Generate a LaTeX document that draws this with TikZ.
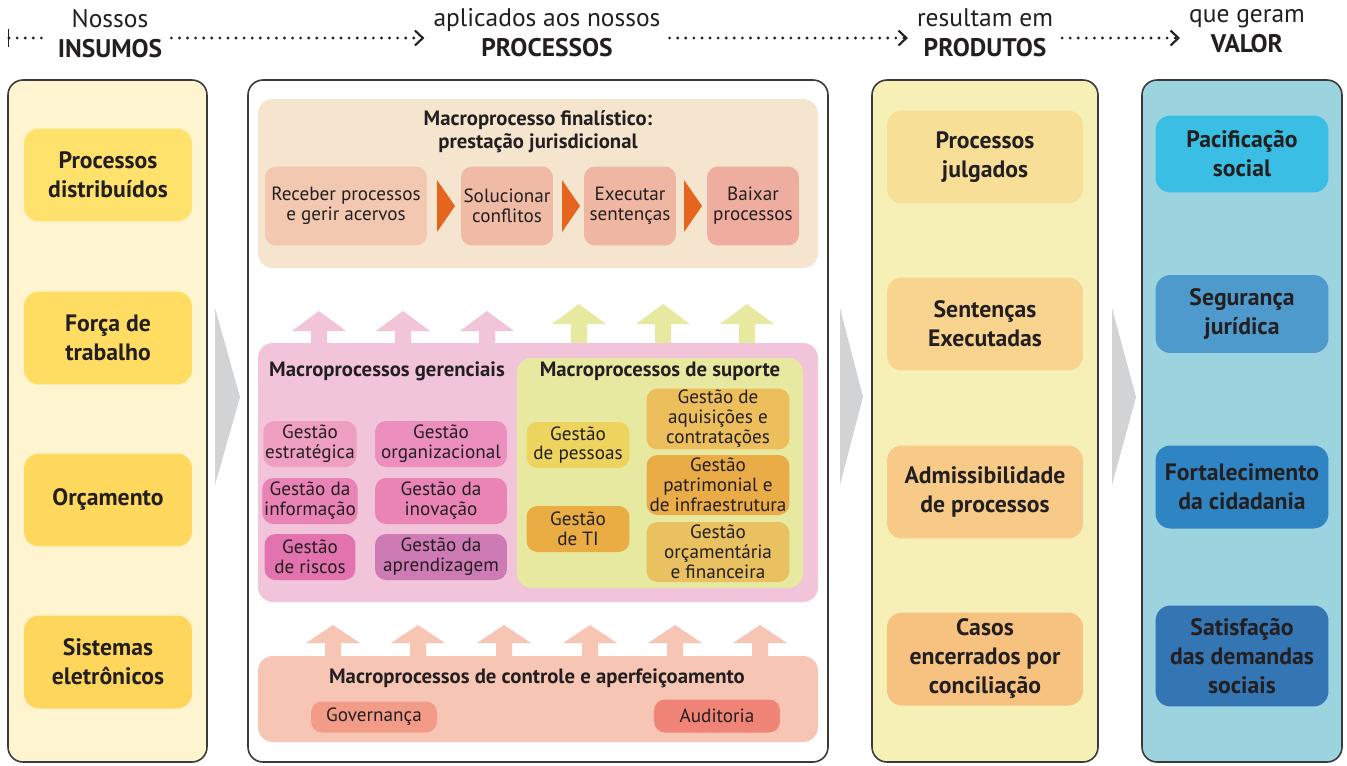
\documentclass[tikz,border=0pt]{standalone}
\usepackage{fontspec}
\setmainfont{PT Sans}
\usepackage{tikz}
\usetikzlibrary{arrows.meta, positioning}

\definecolor{ink}{HTML}{231F20}
\definecolor{moldura}{HTML}{3A3A3A}
\definecolor{cinza}{HTML}{D1D3D4}
\definecolor{insumofundo}{HTML}{FEF4CF}
\definecolor{insA}{HTML}{FFE26C}
\definecolor{insB}{HTML}{FFDC62}
\definecolor{insC}{HTML}{FFD85E}
\definecolor{insD}{HTML}{FFD65C}
\definecolor{prodfundo}{HTML}{F7F0B6}
\definecolor{prodA}{HTML}{F8DF97}
\definecolor{prodB}{HTML}{F8D48E}
\definecolor{prodC}{HTML}{F7CB87}
\definecolor{prodD}{HTML}{F7C27F}
\definecolor{valfundo}{HTML}{9BD3DF}
\definecolor{valA}{HTML}{3ABEE3}
\definecolor{valB}{HTML}{4F9ACC}
\definecolor{valC}{HTML}{2F85C4}
\definecolor{valD}{HTML}{3475B4}
\definecolor{finfundo}{HTML}{F5E5CF}
\definecolor{finA}{HTML}{F2C8B1}
\definecolor{finB}{HTML}{F0BBA5}
\definecolor{finC}{HTML}{EFB7A1}
\definecolor{finD}{HTML}{EEAD9E}
\definecolor{laranja}{HTML}{E5641E}
\definecolor{gerfundo}{HTML}{F2C4D9}
\definecolor{gerA}{HTML}{EE9FC2}
\definecolor{gerB}{HTML}{EC8FBF}
\definecolor{gerC}{HTML}{E983B6}
\definecolor{gerD}{HTML}{EA84B5}
\definecolor{gerE}{HTML}{E273AE}
\definecolor{gerF}{HTML}{CE7AB5}
\definecolor{supfundo}{HTML}{E8E9A0}
\definecolor{supA}{HTML}{ECD45F}
\definecolor{supB}{HTML}{E9AD44}
\definecolor{supC}{HTML}{ECBE5C}
\definecolor{supD}{HTML}{E9AC47}
\definecolor{supE}{HTML}{EAC160}
\definecolor{ctrfundo}{HTML}{F7C5B3}
\definecolor{ctrA}{HTML}{F29C88}
\definecolor{ctrB}{HTML}{F08477}

\tikzset{
    painel/.style={draw=moldura, line width=0.9pt, rounded corners=0.3cm},
    area/.style={rounded corners=0.3cm},
    cabecalho/.style={align=center, text=ink, inner sep=5pt, font=\fontsize{14.5}{17}\selectfont},
    pontilhado/.style={ink, line width=1.8pt, line cap=round, dash pattern=on 0pt off 4.6pt},
    ponta/.style={-{Straight Barb[length=4.5pt, width=8.5pt, line width=1.2pt]}},
    caixagrande/.style={rounded corners=0.3cm, align=center, text=ink, inner sep=1pt,
        font=\fontsize{13.5}{16.5}\selectfont\bfseries},
    caixapequena/.style={rounded corners=0.22cm, align=center, text=ink, inner sep=1pt,
        font=\fontsize{10.9}{11.3}\selectfont},
    titulo/.style={align=center, text=ink, inner sep=1pt, font=\fontsize{11.8}{13}\selectfont\bfseries}
}

\begin{document}
\begin{tikzpicture}[x=0.02cm, y=-0.02cm]
    \useasboundingbox (0,0) rectangle (1347,765);

    % cabecalho
    \node[cabecalho] (insumos) at (110,34) {Nossos\\\textbf{INSUMOS}};
    \node[cabecalho] (processos) at (547,33) {aplicados aos nossos\\\textbf{PROCESSOS}};
    \node[cabecalho] (produtos) at (985,33) {resultam em\\\textbf{PRODUTOS}};
    \node[cabecalho] (valor) at (1247,31) {que geram\\\textbf{VALOR}};
    \coordinate (inicio) at (8,38);

    \draw[pontilhado, {Bar[width=10pt, line width=0.8pt]}-] (inicio) -- (inicio -| insumos.west);
    \draw[pontilhado, ponta] (insumos.east |- inicio) -- (inicio -| processos.west);
    \draw[pontilhado, ponta] (processos.east |- inicio) -- (inicio -| produtos.west);
    \draw[pontilhado, ponta] (produtos.east |- inicio) -- (inicio -| valor.west);

    % paineis
    \filldraw[painel, fill=insumofundo] (8,80) rectangle (207,762);
    \filldraw[painel, fill=white] (248,80) rectangle (828,762);
    \filldraw[painel, fill=prodfundo] (872,80) rectangle (1098,762);
    \filldraw[painel, fill=valfundo] (1142,80) rectangle (1342,762);

    \fill[cinza] (215,308) -- (240,397) -- (215,485) -- cycle;
    \fill[cinza] (840,308) -- (863,397) -- (840,485) -- cycle;
    \fill[cinza] (1112,308) -- (1136,397) -- (1112,485) -- cycle;

    % insumos
    \node[caixagrande, fill=insA, minimum width=3.36cm, minimum height=1.86cm] (distribuidos) at (108,175) {Processos\\distribuídos};
    \node[caixagrande, fill=insB, minimum width=3.36cm, minimum height=1.86cm] (forca) at (108,338) {Força de\\trabalho};
    \node[caixagrande, fill=insC, minimum width=3.36cm, minimum height=1.86cm] (orcamento) at (108,500) {Orçamento};
    \node[caixagrande, fill=insD, minimum width=3.36cm, minimum height=1.86cm] (sistemas) at (108,662) {Sistemas\\eletrônicos};

    % produtos
    \node[caixagrande, fill=prodA, minimum width=3.92cm, minimum height=1.86cm] (julgados) at (985,157) {Processos\\julgados};
    \node[caixagrande, fill=prodB, minimum width=3.92cm, minimum height=1.86cm] (executadas) at (985,324) {Sentenças\\Executadas};
    \node[caixagrande, fill=prodC, minimum width=3.92cm, minimum height=1.86cm] (admissibilidade) at (985,492) {Admissibilidade\\de processos};
    \node[caixagrande, fill=prodD, minimum width=3.92cm, minimum height=1.86cm] (conciliacao) at (985,659) {Casos\\encerrados por\\conciliação};

    % valor
    \node[caixagrande, fill=valA, minimum width=3.46cm, minimum height=1.54cm] (pacificacao) at (1242,154) {Pacificação\\social};
    \node[caixagrande, fill=valB, minimum width=3.46cm, minimum height=1.56cm] (seguranca) at (1242,314) {Segurança\\jurídica};
    \node[caixagrande, fill=valC, minimum width=3.46cm, minimum height=1.66cm] (cidadania) at (1242,487) {Fortalecimento\\da cidadania};
    \node[caixagrande, fill=valD, minimum width=3.46cm, minimum height=2.02cm] (demandas) at (1242,656) {Satisfação\\das demandas\\sociais};

    % macroprocesso finalistico
    \fill[area, fill=finfundo] (258,99) rectangle (818,268);
    \node[titulo] (finalistico) at (538,132) {Macroprocesso finalístico:\\prestação jurisdicional};
    \node[caixapequena, fill=finA, minimum width=3.24cm, minimum height=1.58cm] (receber) at (346,206) {Receber processos\\e gerir acervos};
    \node[caixapequena, fill=finB, minimum width=1.84cm, minimum height=1.58cm] (solucionar) at (507,206) {Solucionar\\conflitos};
    \node[caixapequena, fill=finC, minimum width=1.84cm, minimum height=1.58cm] (executar) at (630,206) {Executar\\sentenças};
    \node[caixapequena, fill=finD, minimum width=1.84cm, minimum height=1.58cm] (baixar) at (753,206) {Baixar\\processos};
    \fill[laranja] (437,180) -- (455,206) -- (437,232) -- cycle;
    \fill[laranja] (562,180) -- (580,206) -- (562,232) -- cycle;
    \fill[laranja] (684,180) -- (702,206) -- (684,232) -- cycle;

    % setas para cima
    \foreach \x in {319,403,487}
        \fill[gerfundo] (\x-8,350) -- (\x-8,331) -- (\x-27,331) -- (\x,311) -- (\x+27,331) -- (\x+8,331) -- (\x+8,350) -- cycle;
    \foreach \x in {579,663,747}
        \fill[supfundo] (\x-8,365) -- (\x-8,324) -- (\x-27,324) -- (\x,304) -- (\x+27,324) -- (\x+8,324) -- (\x+8,365) -- cycle;
    \foreach \x in {333,418,504,590,675,760}
        \fill[ctrfundo] (\x-8,662) -- (\x-8,643) -- (\x-27,643) -- (\x,625) -- (\x+27,643) -- (\x+8,643) -- (\x+8,662) -- cycle;

    % macroprocessos gerenciais
    \fill[area, fill=gerfundo] (258,343) rectangle (818,602);
    \node[titulo] (gerenciais) at (387,371) {Macroprocessos gerenciais};
    \node[caixapequena, fill=gerA, minimum width=1.82cm, minimum height=0.92cm] (estrategica) at (310,444) {Gestão\\estratégica};
    \node[caixapequena, fill=gerB, minimum width=2.64cm, minimum height=0.92cm] (organizacional) at (441,444) {Gestão\\organizacional};
    \node[caixapequena, fill=gerC, minimum width=1.82cm, minimum height=0.92cm] (informacao) at (310,501) {Gestão da\\informação};
    \node[caixapequena, fill=gerD, minimum width=2.64cm, minimum height=0.92cm] (inovacao) at (441,501) {Gestão da\\inovação};
    \node[caixapequena, fill=gerE, minimum width=1.82cm, minimum height=0.92cm] (riscos) at (310,557) {Gestão\\de riscos};
    \node[caixapequena, fill=gerF, minimum width=2.64cm, minimum height=0.92cm] (aprendizagem) at (441,557) {Gestão da\\aprendizagem};

    % macroprocessos de suporte
    \fill[area, fill=supfundo] (517,358) rectangle (803,588);
    \node[titulo] (suporte) at (660,371) {Macroprocessos de suporte};
    \node[caixapequena, fill=supA, minimum width=2.06cm, minimum height=0.92cm] (pessoas) at (578,445) {Gestão\\de pessoas};
    \node[caixapequena, fill=supB, minimum width=2.06cm, minimum height=0.92cm] (ti) at (578,529) {Gestão\\de TI};
    \node[caixapequena, fill=supC, minimum width=2.86cm, minimum height=1.2cm] (aquisicoes) at (718,419) {Gestão de\\aquisições e\\contratações};
    \node[caixapequena, fill=supD, minimum width=2.86cm, minimum height=1.2cm] (patrimonial) at (718,485) {Gestão\\patrimonial e\\de infraestrutura};
    \node[caixapequena, fill=supE, minimum width=2.86cm, minimum height=1.2cm] (orcamentaria) at (718,552) {Gestão\\orçamentária\\e financeira};

    % controle e aperfeicoamento
    \fill[area, fill=ctrfundo] (258,656) rectangle (818,742);
    \node[titulo] (controle) at (537,678) {Macroprocessos de controle e aperfeiçoamento};
    \node[caixapequena, fill=ctrA, minimum width=2.52cm, minimum height=0.62cm] (governanca) at (374,717) {Governança};
    \node[caixapequena, fill=ctrB, minimum width=2.52cm, minimum height=0.66cm] (auditoria) at (717,716) {Auditoria};
\end{tikzpicture}
\end{document}
